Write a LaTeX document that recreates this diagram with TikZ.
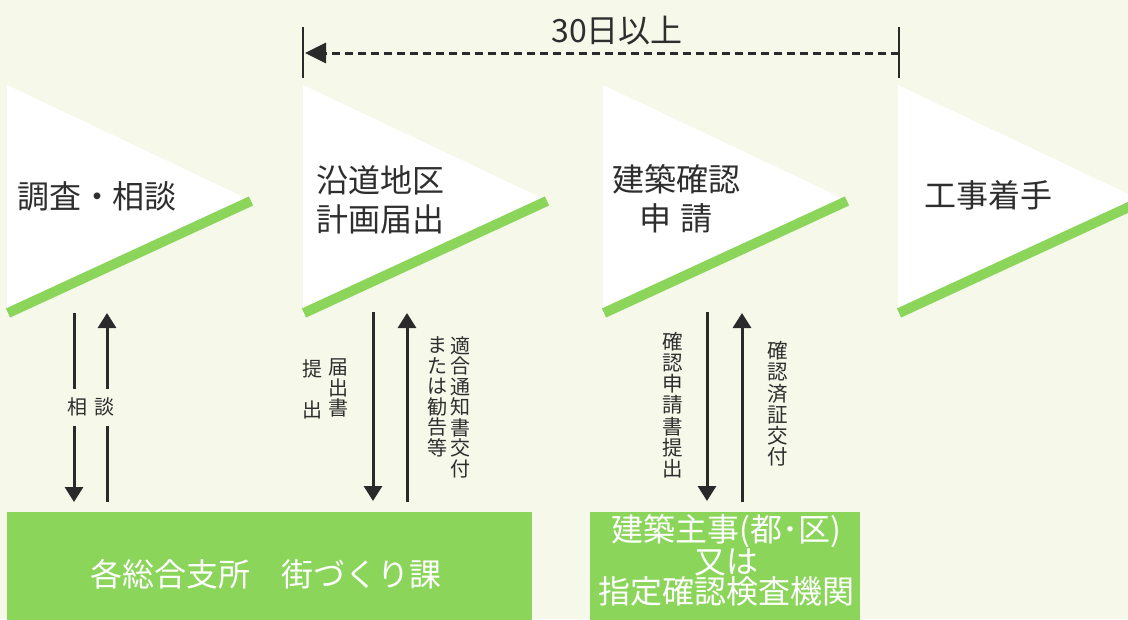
\documentclass[tikz,border=0pt]{standalone}
\usepackage{fontspec}
\setmainfont{Noto Sans CJK JP}
\usetikzlibrary{arrows.meta}
\definecolor{bg}{HTML}{F6F8EA}
\definecolor{grn}{HTML}{8BD55B}
\definecolor{ink}{HTML}{2E2E2E}
\definecolor{arr}{HTML}{2A2A2A}
\tikzset{
  stage/.style={fill=white},
  band/.style={draw=grn, line width=10pt},
  title/.style={text=ink, font=\fontsize{32}{39}\selectfont, align=center, inner sep=0pt},
  vlabel/.style={text=ink, font=\fontsize{20}{20.5}\selectfont, align=center, inner sep=0pt},
  vlabelb/.style={text=ink, font=\fontsize{20.5}{21.2}\selectfont, align=center, inner sep=0pt},
  flow/.style={draw=arr, line width=3pt, -{Triangle[width=18pt,length=15pt]}},
  span/.style={draw=arr, line width=3pt, dash pattern=on 8pt off 5pt, -{Triangle[width=20pt,length=21pt]}},
  tick/.style={draw=arr, line width=1.5pt},
  office/.style={fill=grn},
  officetext/.style={text=white, font=\fontsize{32}{30}\selectfont, align=center, inner sep=0pt},
  gaplabel/.style={text=ink, font=\fontsize{20}{20}\selectfont, fill=bg, inner xsep=2pt, minimum height=37pt}
}
\begin{document}
\begin{tikzpicture}[x=1pt,y=-1pt]
\useasboundingbox (0,0) rectangle (1128,619);
\clip (0,0) rectangle (1128,619);
\fill[bg] (0,0) rectangle (1128,619);

% stage shapes
\foreach \x in {7,303,603,898} {
  \fill[stage] (\x,85) -- (\x+243,200) -- (\x,315) -- cycle;
  \draw[band] (\x+1,313) -- (\x+244,201);
}

% titles
\node[title] (s1) at (97,196) {調査・相談};
\node[title] (s2) at (380,200) {沿道地区\\計画届出};
\node[title] (s3) at (676,199) {建築確認\\申\hspace{0.3em}請};
\node[title] (s4) at (988,195) {工事着手};

% 30 days span
\coordinate (tL1) at (303,27); \coordinate (tL2) at (303,78);
\coordinate (tR1) at (899,27); \coordinate (tR2) at (899,78);
\draw[tick] (tL1) -- (tL2);
\draw[tick] (tR1) -- (tR2);
\coordinate (dR) at (899,53); \coordinate (dL) at (305,53);
\draw[span] (dR) -- (dL);
\node[text=ink, font=\fontsize{32}{32}\selectfont, inner sep=0pt] (days) at (617,31) {30日以上};

% offices
\fill[office] (7,512) rectangle (532,625);
\node[officetext] (o1) at (266,574) {各総合支所\hspace{1em}街づくり課};
\fill[office] (590,512) rectangle (860,625);
\node[officetext, font=\fontsize{32}{30}\selectfont] (o2) at (726,560) {建築主事(都･区)\\又は\\指定確認検査機関};

% pair 1
\coordinate (a1t) at (74,313); \coordinate (a1b) at (74,502);
\coordinate (b1b) at (107,502); \coordinate (b1t) at (107,313);
\draw[flow] (a1t) -- (a1b);
\draw[flow] (b1b) -- (b1t);
\node[gaplabel] (l1a) at (77,407) {相};
\node[gaplabel] (l1b) at (104,407) {談};

% pair 2
\coordinate (a2t) at (373,312); \coordinate (a2b) at (373,501);
\coordinate (b2b) at (407,502); \coordinate (b2t) at (407,313);
\draw[flow] (a2t) -- (a2b);
\draw[flow] (b2b) -- (b2t);
\node[vlabel] (l2a) at (312,389) {提\\\mbox{}\\出};
\node[vlabel] (l2b) at (338,388) {届\\出\\書};
\node[vlabel] (l2c) at (437,397) {ま\\た\\は\\勧\\告\\等};
\node[vlabel] (l2d) at (460,407) {適\\合\\通\\知\\書\\交\\付};

% pair 3
\coordinate (a3t) at (707,312); \coordinate (a3b) at (707,501);
\coordinate (b3b) at (742,502); \coordinate (b3t) at (742,313);
\draw[flow] (a3t) -- (a3b);
\draw[flow] (b3b) -- (b3t);
\node[vlabelb] (l3a) at (673,405) {確\\認\\申\\請\\書\\提\\出};
\node[vlabelb] (l3b) at (778,404) {確\\認\\済\\証\\交\\付};
\end{tikzpicture}
\end{document}
